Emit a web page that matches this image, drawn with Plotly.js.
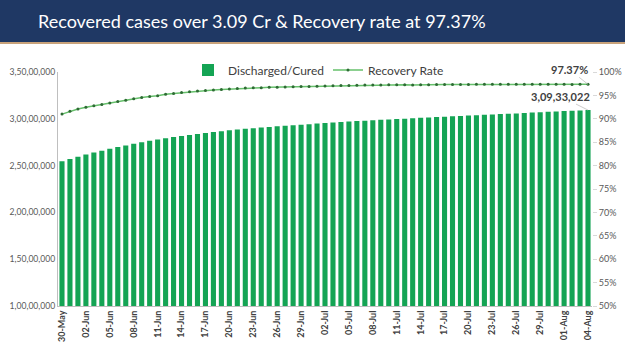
<!DOCTYPE html>
<html>
<head>
<meta charset="utf-8">
<script src="https://cdn.plot.ly/plotly-3.0.1.min.js"></script>
<style>html,body{margin:0;padding:0;background:#fff;}#chart{width:625px;height:351px;}</style>
</head>
<body>
<div id="chart"></div>
<script>
var categories = [
  "30-May","31-May",
  "01-Jun","02-Jun","03-Jun","04-Jun","05-Jun","06-Jun","07-Jun","08-Jun","09-Jun","10-Jun",
  "11-Jun","12-Jun","13-Jun","14-Jun","15-Jun","16-Jun","17-Jun","18-Jun","19-Jun","20-Jun",
  "21-Jun","22-Jun","23-Jun","24-Jun","25-Jun","26-Jun","27-Jun","28-Jun","29-Jun","30-Jun",
  "01-Jul","02-Jul","03-Jul","04-Jul","05-Jul","06-Jul","07-Jul","08-Jul","09-Jul","10-Jul",
  "11-Jul","12-Jul","13-Jul","14-Jul","15-Jul","16-Jul","17-Jul","18-Jul","19-Jul","20-Jul",
  "21-Jul","22-Jul","23-Jul","24-Jul","25-Jul","26-Jul","27-Jul","28-Jul","29-Jul","30-Jul","31-Jul",
  "01-Aug","02-Aug","03-Aug","04-Aug"
];

var discharged = [
  25454320, 25692342,
  25947629, 26179085, 26390584, 26597655, 26804474, 26984781, 27159180, 27341462, 27504126, 27655493,
  27790073, 27911384, 28043446, 28162947, 28280472, 28388100, 28491670, 28580647, 28678390, 28766009,
  28844199, 28926038, 28994855, 29063740, 29128267, 29193085, 29251029, 29309607, 29366601, 29427330,
  29488918, 29551029, 29605779, 29658078, 29700430, 29752294, 29799534, 29843825, 29888284, 29933538,
  29975064, 30014713, 30063720, 30104720, 30143850, 30183876, 30227792, 30269796, 30308456, 30353710,
  30390687, 30429339, 30468079, 30503166, 30543138, 30579106, 30621469, 30663147, 30701612, 30743972, 30781263,
  30820521, 30857467, 30896354, 30933022
];

var recoveryRate = [
  91.00, 91.60,
  92.09, 92.48, 92.79, 93.08, 93.38, 93.67, 93.94, 94.29, 94.55, 94.77,
  94.93, 95.26, 95.43, 95.64, 95.80, 95.93, 96.03, 96.16, 96.26, 96.36,
  96.49, 96.56, 96.61, 96.66, 96.72, 96.75, 96.80, 96.87, 96.92, 96.92,
  96.97, 97.01, 97.06, 97.09, 97.11, 97.18, 97.20, 97.22, 97.22, 97.25,
  97.28, 97.28, 97.22, 97.28, 97.28, 97.31, 97.31, 97.31, 97.32, 97.34,
  97.36, 97.37, 97.37, 97.37, 97.37, 97.38, 97.39, 97.39, 97.39, 97.38, 97.36,
  97.36, 97.35, 97.36, 97.37
];

var xTickLabels = ["30-May","02-Jun","05-Jun","08-Jun","11-Jun","14-Jun","17-Jun","20-Jun","23-Jun","26-Jun","29-Jun",
  "02-Jul","05-Jul","08-Jul","11-Jul","14-Jul","17-Jul","20-Jul","23-Jul","26-Jul","29-Jul","01-Aug","04-Aug"];

var leftTickVals = [10000000, 15000000, 20000000, 25000000, 30000000, 35000000];
var leftTickText = ["1,00,00,000","1,50,00,000","2,00,00,000","2,50,00,000","3,00,00,000","3,50,00,000"];

var titleText = "Recovered cases over 3.09 Cr &amp; Recovery rate at 97.37%";
var rateLabel = "97.37%";
var casesLabel = "3,09,33,022";

var lastCat = categories[categories.length - 1];

var traces = [
  {
    type: "bar", name: "Discharged/Cured",
    x: categories, y: discharged,
    marker: {color: "#14A454"},
    yaxis: "y", hoverinfo: "skip"
  },
  {
    type: "scatter", mode: "lines+markers", name: "Recovery Rate",
    x: categories, y: recoveryRate, yaxis: "y2",
    line: {color: "#66C06B", width: 1.5},
    marker: {color: "#2E6B34", size: 3, symbol: "circle"},
    hoverinfo: "skip"
  }
];

var pw = 534, ph = 234, ml = 58, mt = 72;
function px2x(p){ return (p - ml) / pw; }
function py2y(p){ return (mt + ph - p) / ph; }

var layout = {
  width: 625, height: 351,
  margin: {l: ml, r: 625 - ml - pw, t: mt, b: 351 - mt - ph, pad: 0},
  paper_bgcolor: "#ffffff", plot_bgcolor: "#ffffff",
  bargap: 0.36,
  showlegend: true,
  legend: {
    orientation: "h", x: px2x(188), y: py2y(70), xanchor: "left", yanchor: "middle",
    font: {family: "Lato, 'Open Sans', sans-serif", size: 12, color: "#404040"},
    bgcolor: "rgba(0,0,0,0)", itemwidth: 30, tracegroupgap: 0,
    entrywidth: 95, entrywidthmode: "pixels"
  },
  xaxis: {
    type: "category", range: [-0.5, categories.length - 0.5],
    tickmode: "array", tickvals: xTickLabels, ticktext: xTickLabels,
    tickangle: -90, ticks: "", showgrid: false, zeroline: false,
    showline: true, linecolor: "#BFBFBF", linewidth: 1,
    tickfont: {family: "Lato, 'Open Sans', sans-serif", size: 9, color: "#404040", weight: "bold"}
  },
  yaxis: {
    range: [10000000, 35000000], tickmode: "array",
    tickvals: leftTickVals, ticktext: leftTickText,
    showgrid: false, zeroline: false, showline: true, linecolor: "#BFBFBF", linewidth: 1,
    ticks: "", ticklen: 0,
    tickfont: {family: "Lato, 'Open Sans', sans-serif", size: 8.6, color: "#595959"}
  },
  yaxis2: {
    overlaying: "y", side: "right", range: [50, 100], dtick: 5, tick0: 50,
    ticksuffix: "%", showgrid: false, zeroline: false, showline: false,
    ticks: "outside", ticklen: 4, tickcolor: "#D9D9D9",
    tickfont: {family: "Lato, 'Open Sans', sans-serif", size: 9, color: "#595959"}
  },
  shapes: [
    {type: "rect", xref: "paper", yref: "paper",
     x0: px2x(0), x1: px2x(625), y0: py2y(42), y1: py2y(0),
     fillcolor: "#1F3864", line: {width: 0}, layer: "above"},
    {type: "line", xref: "paper", yref: "paper",
     x0: px2x(0), x1: px2x(625), y0: py2y(43), y1: py2y(43),
     line: {color: "#C8A27A", width: 2}, layer: "above"}
  ],
  annotations: [
    {xref: "paper", yref: "paper", x: px2x(262), y: py2y(21), xanchor: "center", yanchor: "middle",
     text: titleText, showarrow: false,
     font: {family: "Lato, 'Open Sans', sans-serif", size: 18, color: "#FFFFFF"}},
    {xref: "x", yref: "y2", x: lastCat, y: recoveryRate[recoveryRate.length - 1],
     text: rateLabel, showarrow: true, arrowhead: 0, arrowwidth: 0.8, arrowcolor: "#BFBFBF",
     ax: -19, ay: -15, standoff: 0,
     font: {family: "Lato, 'Open Sans', sans-serif", size: 11, color: "#404040", weight: "bold"}},
    {xref: "x", yref: "y", x: lastCat, y: discharged[discharged.length - 1],
     text: casesLabel, showarrow: true, arrowhead: 0, arrowwidth: 0.8, arrowcolor: "#BFBFBF",
     ax: -28, ay: -14, standoff: 0,
     font: {family: "Lato, 'Open Sans', sans-serif", size: 11, color: "#404040", weight: "bold"}}
  ]
};

Plotly.newPlot("chart", traces, layout, {staticPlot: true, displayModeBar: false});
</script>
</body>
</html>
